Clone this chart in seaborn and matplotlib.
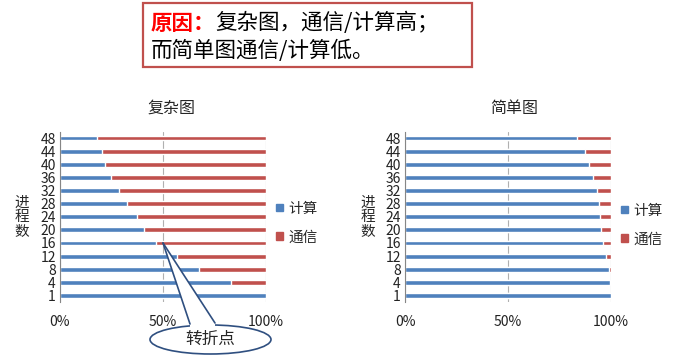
import matplotlib
matplotlib.use("Agg")
import numpy as np
import matplotlib.pyplot as plt
import seaborn as sns
from matplotlib.patches import Patch, Ellipse, Polygon, Rectangle
from matplotlib.lines import Line2D

# data (share of compute time, communication = rest)
procs = ["48", "44", "40", "36", "32", "28", "24", "20", "16", "12", "8", "4", "1"]
complex_compute = [0.178, 0.202, 0.218, 0.249, 0.285, 0.324, 0.375, 0.406, 0.464, 0.570, 0.673, 0.830, 1.0]
simple_compute = [0.837, 0.874, 0.893, 0.911, 0.930, 0.940, 0.947, 0.953, 0.963, 0.976, 0.992, 0.994, 1.0]
series_names = ["计算", "通信"]
x_ticks = [0, 0.5, 1.0]
x_ticklabels = ["0%", "50%", "100%"]

BLUE = "#4F81BD"
RED = "#C0504D"
GRID = "#B0B0B0"
AXIS = "#868686"
W, H = 690, 358

sns.set_theme(style="white")
plt.rcParams["font.family"] = ["Noto Sans CJK SC", "DejaVu Sans"]

fig = plt.figure(figsize=(W / 100, H / 100), dpi=100)


def box(x0, y0, x1, y1):
    # pixel box (top-left origin) -> figure fraction rect
    return [x0 / W, 1 - y1 / H, (x1 - x0) / W, (y1 - y0) / H]


def fpt(x, y):
    return (x / W, 1 - y / H)


def draw_panel(ax, compute, title, title_x, legend_x, legend_y, ylab_x):
    total = [1.0] * len(procs)
    sns.barplot(x=total, y=procs, order=procs, color=RED, saturation=1,
                width=0.37, ax=ax, orient="h")
    sns.barplot(x=compute, y=procs, order=procs, color=BLUE, saturation=1,
                width=0.37, ax=ax, orient="h")
    ax.set_xlim(0, 1)
    ax.set_ylim(len(procs) - 0.5, -0.5)
    ax.set_xticks(x_ticks)
    ax.set_xticklabels(x_ticklabels)
    ax.set_xlabel("")
    ax.set_ylabel("")
    ax.grid(axis="x", color=GRID, linewidth=0.8)
    ax.set_axisbelow(True)
    for s in ["top", "right", "bottom"]:
        ax.spines[s].set_visible(False)
    ax.spines["left"].set_color(AXIS)
    ax.spines["left"].set_linewidth(0.8)
    ax.set_yticks(np.arange(-0.5, len(procs), 1), minor=True)
    ax.tick_params(axis="y", which="major", length=0, pad=3, labelsize=10, colors="#222222")
    ax.tick_params(axis="y", which="minor", length=3, width=0.8, color=AXIS, direction="out")
    ax.tick_params(axis="x", length=0, pad=9, labelsize=10, colors="#222222")

    fig.text(title_x / W, 1 - 108 / H, title, ha="center", va="center", fontsize=11.5)
    for i, ch in enumerate("进程数"):
        fig.text(ylab_x / W, 1 - (203 + 14.5 * i) / H, ch, ha="center", va="center", fontsize=10.5)

    handles = [Patch(color=BLUE, label=series_names[0]), Patch(color=RED, label=series_names[1])]
    ax.legend(handles=handles, loc="center left", bbox_to_anchor=fpt(legend_x, legend_y),
              bbox_transform=fig.transFigure, frameon=False, fontsize=10.5,
              handlelength=0.45, handleheight=0.45, handletextpad=0.4,
              labelspacing=1.0, borderpad=0, borderaxespad=0)


ax1 = fig.add_axes(box(60, 131.5, 266, 302))
ax2 = fig.add_axes(box(405, 131.5, 611, 302))
draw_panel(ax1, complex_compute, "复杂图", 171.7, 276, 223, 22)
draw_panel(ax2, simple_compute, "简单图", 514, 621, 225, 368)

# callout "转折点" pointing at the 16-process bar in the left panel
fig.canvas.draw()
tip = fig.transFigure.inverted().transform(ax1.transData.transform((0.5, procs.index("16"))))
EDGE = "#2F4F80"
ell = Ellipse(fpt(210.5, 339.5), 121 / W, 29 / H, transform=fig.transFigure,
              facecolor="white", edgecolor=EDGE, linewidth=1.2, zorder=5)
fig.add_artist(ell)
p_left, p_right = fpt(190, 324), fpt(215, 323)
cover = Polygon([p_left, tip, p_right, fpt(215, 331), fpt(190, 331)], closed=True,
                transform=fig.transFigure, facecolor="white", edgecolor="none", zorder=6)
fig.add_artist(cover)
for p in (p_left, p_right):
    fig.add_artist(Line2D([p[0], tip[0]], [p[1], tip[1]], transform=fig.transFigure,
                          color=EDGE, linewidth=1.2, zorder=7))
fig.text(210.5 / W, 1 - 339 / H, "转折点", ha="center", va="center", fontsize=12, zorder=8)

# headline box
fig.add_artist(Rectangle(fpt(143, 67), 329 / W, 64 / H, transform=fig.transFigure,
                         facecolor="none", edgecolor=RED, linewidth=1.6))
t1 = fig.text(151 / W, 1 - 23 / H, "原因：", ha="left", va="center", fontsize=15.5,
              color="#FF0000", fontweight="bold")
fig.canvas.draw()
bb = t1.get_window_extent()
fig.text(bb.x1 / W, 1 - 23 / H, "复杂图，通信/计算高；", ha="left", va="center", fontsize=15.5, color="black")
fig.text(151 / W, 1 - 51 / H, "而简单图通信/计算低。", ha="left", va="center", fontsize=15.5, color="black")

fig.savefig("out.png", dpi=100)
